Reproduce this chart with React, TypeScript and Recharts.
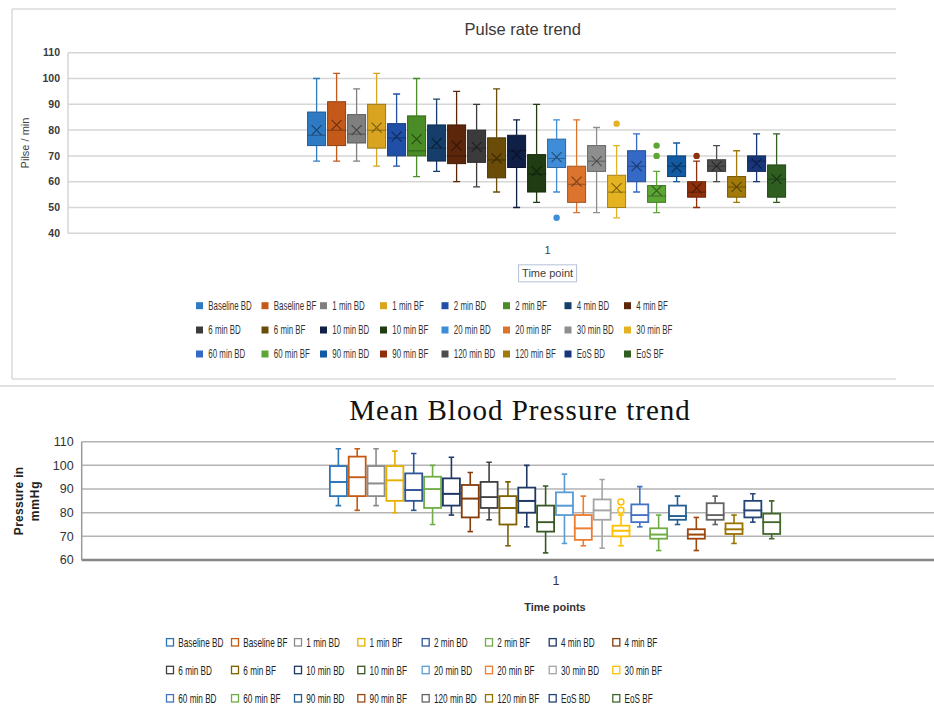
import React from 'react';
import { ComposedChart, Bar, Scatter, XAxis, YAxis, CartesianGrid, Label } from 'recharts';

// ---------- shared categories ----------
const seriesNames = [
  'Baseline BD', 'Baseline BF', '1 min BD', '1 min BF', '2 min BD', '2 min BF', '4 min BD', '4 min BF',
  '6 min BD', '6 min BF', '10 min BD', '10 min BF', '20 min BD', '20 min BF', '30 min BD', '30 min BF',
  '60 min BD', '60 min BF', '90 min BD', '90 min BF', '120 min BD', '120 min BF', 'EoS BD', 'EoS BF',
];
const categoryLabels = ['1'];

// ---------- Pulse rate (beats / min) ----------
const pulseMin = [68, 68, 68, 66, 66, 62, 64, 60, 58, 56, 50, 52, 56, 48, 48, 46, 56, 48, 60, 50, 60, 52, 60, 52];
const pulseQ1 = [74, 74, 75, 73, 70, 70, 68, 67, 67.5, 61.5, 65.5, 56, 65.5, 52, 64, 50, 60, 52, 62, 54, 64, 54, 64, 54];
const pulseMedian = [78, 80, 78.5, 80, 77, 72, 73, 70, 73, 68.5, 72, 63, 69, 59, 68, 56, 66, 54.5, 66, 56, 66, 58, 68, 61];
const pulseQ3 = [87, 91, 86, 90, 82.5, 85.5, 82, 82, 80, 77, 78, 70.5, 76.5, 66, 74, 62.5, 72, 58.5, 70, 60, 68.5, 62, 70, 66.5];
const pulseMax = [100, 102, 96, 102, 94, 100, 92, 95, 90, 96, 84, 90, 84, 84, 81, 74, 78.5, 64, 75, 68, 74, 72, 78.5, 78.5];
const pulseMean = [80, 82, 80, 81, 77.5, 76.5, 75, 74, 73.5, 69, 70.5, 64, 69.5, 60, 68, 57.5, 66, 56.5, 65.5, 57.5, 66, 58, 67, 61];
const pulseOutlierSeries = [12, 15, 17, 17, 19];
const pulseOutlierValues = [46, 82.5, 74, 70, 70];
const pulseTicks = [40, 50, 60, 70, 80, 90, 100, 110];

// ---------- Mean blood pressure (mmHg) ----------
const bpMin = [83, 81, 83, 80, 81, 75, 79, 72, 77, 66, 74, 63, 67, 66, 65, 66, 74, 64, 75, 64, 75, 67, 76, 69];
const bpQ1 = [87, 87, 87, 85, 85, 82, 83, 78, 82, 75, 80, 72, 79, 68.5, 77, 70, 76, 69, 77, 69, 77, 71, 78, 71];
const bpMedian = [93, 95, 92.4, 93.7, 89.6, 90, 88, 86, 86.6, 82, 85, 76, 83, 73.4, 81, 72.4, 79, 70.8, 78.6, 70.8, 79, 73, 81, 76];
const bpQ3 = [99.7, 103.7, 99.7, 99.7, 96.6, 95.2, 94.5, 91.7, 93, 87, 90.6, 83, 88.6, 79, 85.6, 74.5, 83.5, 73.4, 83, 73, 84, 75.5, 85, 79.6];
const bpMax = [107, 107, 107, 106, 105, 100, 103.4, 97, 101.3, 93, 100, 91.3, 96.3, 87, 94, 79, 91, 79, 87, 78, 87, 79, 88, 85];
const bpOutlierSeries = [15, 15];
const bpOutlierValues = [84.5, 81];
const bpTicks = [60, 70, 80, 90, 100, 110];

// ---------- colours ----------
const pulseColors = [
  '#2e7bc4', '#c4591a', '#7f7f7f', '#d9a520', '#1f4fa6', '#4a8c25', '#153f6a', '#5c260a',
  '#3b3b3b', '#6a4b08', '#101f46', '#203c12', '#3f8dd8', '#dc742e', '#8e8e8e', '#e3b322',
  '#3569c6', '#5ba634', '#125aa2', '#8f300c', '#4d4d4d', '#a27a0a', '#18377b', '#2f5f20',
];
const bpColors = [
  '#2e75b6', '#c55a11', '#8c8c8c', '#e6b000', '#2f5597', '#70ad47', '#1f3864', '#843c0c',
  '#404040', '#7f6000', '#203864', '#385723', '#5b9bd5', '#ed7d31', '#a5a5a5', '#ffc000',
  '#4472c4', '#70ad47', '#255e91', '#9e480e', '#636363', '#997300', '#264478', '#43682b',
];

function shade(hex: string, f: number) {
  const n = parseInt(hex.slice(1), 16);
  const r = Math.round(((n >> 16) & 255) * f);
  const g = Math.round(((n >> 8) & 255) * f);
  const b = Math.round((n & 255) * f);
  return `rgb(${r},${g},${b})`;
}

// ---------- table builders ----------
function buildRows(min: number[], q1: number[], med: number[], q3: number[], max: number[], mean?: number[]) {
  return seriesNames.map((name, i) => ({
    pos: i,
    name,
    base: min[i],
    lowW: q1[i] - min[i],
    lowBox: med[i] - q1[i],
    highBox: q3[i] - med[i],
    highW: max[i] - q3[i],
    mean: mean ? mean[i] : undefined,
  }));
}
const pulseRows = buildRows(pulseMin, pulseQ1, pulseMedian, pulseQ3, pulseMax, pulseMean);
const bpRows = buildRows(bpMin, bpQ1, bpMedian, bpQ3, bpMax);
const pulseOutlierRows = pulseOutlierSeries.map((s, i) => ({ pos: s, value: pulseOutlierValues[i] }));
const bpOutlierRows = bpOutlierSeries.map((s, i) => ({ pos: s, value: bpOutlierValues[i] }));
const groupCenter = (seriesNames.length - 1) / 2;

// ---------- shapes ----------
const idxOf = (p: any) => (p && p.payload && typeof p.payload.pos === 'number' ? p.payload.pos : p.index ?? 0);
const Empty = () => <g />;

const makeWhisker = (colors: string[], capW: number, sw: number, which: 'low' | 'high') => (p: any) => {
  const { x, y, width, height } = p;
  if (x == null || y == null) return <g />;
  const c = colors[idxOf(p)];
  const cx = x + width / 2;
  const capY = which === 'low' ? y + height : y;
  return (
    <g>
      <line x1={cx} x2={cx} y1={y} y2={y + height} stroke={c} strokeWidth={sw} />
      <line x1={cx - capW / 2} x2={cx + capW / 2} y1={capY} y2={capY} stroke={c} strokeWidth={sw} />
    </g>
  );
};

const makeBox = (fill: (i: number) => string, stroke: (i: number) => string, sw: number) => (p: any) => {
  const { x, y, width, height } = p;
  if (x == null || y == null) return <g />;
  const i = idxOf(p);
  return <rect x={x} y={y} width={width} height={Math.max(0, height)} fill={fill(i)} stroke={stroke(i)} strokeWidth={sw} />;
};

const MeanMark = (p: any) => {
  const { cx, cy } = p;
  if (cx == null || cy == null) return <g />;
  const c = shade(pulseColors[idxOf(p)], 0.55);
  const s = 5;
  return (
    <g stroke={c} strokeWidth={1.1}>
      <line x1={cx - s} y1={cy - s} x2={cx + s} y2={cy + s} />
      <line x1={cx - s} y1={cy + s} x2={cx + s} y2={cy - s} />
    </g>
  );
};

const PulseOutlier = (p: any) => {
  const { cx, cy } = p;
  if (cx == null || cy == null) return <g />;
  return <circle cx={cx} cy={cy} r={3.2} fill={pulseColors[p.payload.pos]} />;
};
const BpOutlier = (p: any) => {
  const { cx, cy } = p;
  if (cx == null || cy == null) return <g />;
  return <circle cx={cx} cy={cy} r={3} fill="#fff" stroke={bpColors[p.payload.pos]} strokeWidth={1.5} />;
};

// ---------- axis ticks / labels ----------
const TopXTick = (p: any) => {
  const { x, y } = p;
  return (
    <g>
      <text x={x + 1} y={y + 12.5} textAnchor="middle" fontSize={11} fill="#404040" fontFamily="Liberation Sans, Arial, sans-serif">
        {categoryLabels[0]}
      </text>
      <rect x={x - 28} y={y + 23.5} width={58} height={17} fill="none" stroke="#b4c2d6" strokeWidth={1} />
      <text x={x + 1} y={y + 35.5} textAnchor="middle" fontSize={11} fill="#404040" fontFamily="Liberation Sans, Arial, sans-serif">
        Time point
      </text>
    </g>
  );
};

const BottomXTick = (p: any) => {
  const { x, y } = p;
  return (
    <g>
      <text x={x + 1} y={y + 16.5} textAnchor="middle" fontSize={12.5} fill="#333" fontFamily="Liberation Sans, Arial, sans-serif">
        {categoryLabels[0]}
      </text>
      <text x={x} y={y + 43} textAnchor="middle" fontSize={11} fontWeight="bold" fill="#333" fontFamily="Liberation Sans, Arial, sans-serif">
        Time points
      </text>
    </g>
  );
};

const TopYLabel = (p: any) => {
  const vb = p.viewBox || {};
  const cy = vb.y + vb.height / 2;
  const cx = 25;
  return (
    <text x={cx} y={cy} transform={`rotate(-90 ${cx} ${cy})`} textAnchor="middle" dominantBaseline="central" fontSize={11} fill="#404040" fontFamily="Liberation Sans, Arial, sans-serif">
      Pilse / min
    </text>
  );
};

const BottomYLabel = (p: any) => {
  const vb = p.viewBox || {};
  const cy = vb.y + vb.height / 2;
  return (
    <g fontSize={12} fontWeight="bold" fill="#222" fontFamily="Liberation Sans, Arial, sans-serif">
      <text x={19.5} y={cy} transform={`rotate(-90 19.5 ${cy})`} textAnchor="middle" dominantBaseline="central" letterSpacing={0.3}>
        Pressure in
      </text>
      <text x={35} y={cy} transform={`rotate(-90 35 ${cy})`} textAnchor="middle" dominantBaseline="central" letterSpacing={0.8}>
        mmHg
      </text>
    </g>
  );
};

// ---------- legends ----------
const topLegendCols = [196, 261.5, 320, 380, 441.5, 503, 564.5, 624];
const topLegendRows = [305.7, 330, 354];
const botLegendCols = [166, 231, 294, 357.3, 421.7, 485, 548.7, 612.3];
const botLegendRows = [642.3, 670, 698.3];

function Legends() {
  return (
    <svg width={934} height={711} style={{ position: 'absolute', left: 0, top: 0, pointerEvents: 'none' }}>
      {/* panel frame of the top chart */}
      <line x1={12} y1={9} x2={896} y2={9} stroke="#c9c9c9" strokeWidth={1} />
      <line x1={12} y1={9} x2={12} y2={379} stroke="#c9c9c9" strokeWidth={1} />
      <line x1={12} y1={379} x2={896} y2={379} stroke="#c9c9c9" strokeWidth={1} />
      <line x1={0} y1={386} x2={934} y2={386} stroke="#c4c4c4" strokeWidth={1} />

      {/* titles */}
      <text x={522.7} y={35} textAnchor="middle" fontSize={16.5} fill="#3a3a3a" fontFamily="Liberation Sans, Arial, sans-serif">
        Pulse rate trend
      </text>
      <text x={520} y={420} textAnchor="middle" fontSize={29} fill="#111" letterSpacing={1} fontFamily="Liberation Serif, Times New Roman, serif">
        Mean Blood Pressure trend
      </text>

      {seriesNames.map((n, i) => {
        const x = topLegendCols[i % 8];
        const y = topLegendRows[Math.floor(i / 8)];
        return (
          <g key={'t' + n}>
            <rect x={x} y={y - 3.5} width={7} height={7} fill={pulseColors[i]} />
            <text transform={`translate(${x + 12.3},${y + 4.2}) scale(0.66,1)`} fontSize={12} fill="#333" fontFamily="Liberation Sans, Arial, sans-serif">
              {n}
            </text>
          </g>
        );
      })}
      {seriesNames.map((n, i) => {
        const x = botLegendCols[i % 8];
        const y = botLegendRows[Math.floor(i / 8)];
        return (
          <g key={'b' + n}>
            <rect x={x + 0.5} y={y - 3.7} width={7} height={7.4} fill="#fff" stroke={bpColors[i]} strokeWidth={1.3} />
            <text transform={`translate(${x + 12.3},${y + 4.6}) scale(0.63,1)`} fontSize={13} fill="#222" fontFamily="Liberation Sans, Arial, sans-serif">
              {n}
            </text>
          </g>
        );
      })}
    </svg>
  );
}

// ---------- charts ----------
function PulseChart() {
  const lowW = makeWhisker(pulseColors, 7, 1.3, 'low');
  const highW = makeWhisker(pulseColors, 7, 1.3, 'high');
  const box = makeBox((i) => pulseColors[i], (i) => shade(pulseColors[i], 0.72), 1);
  return (
    <ComposedChart width={934} height={380} data={pulseRows} margin={{ top: 52.7, right: 38, bottom: 0, left: 0 }}>
      <CartesianGrid vertical={false} stroke="#d6d6d6" strokeWidth={1.5} />
      <XAxis
        type="number"
        dataKey="pos"
        domain={[-12.43, 28.97]}
        allowDataOverflow
        ticks={[groupCenter]}
        interval={0}
        tick={<TopXTick />}
        axisLine={false}
        tickLine={false}
        height={146.7}
      />
      <YAxis
        type="number"
        domain={[40, 110]}
        ticks={pulseTicks}
        allowDataOverflow
        interval={0}
        width={68}
        axisLine={{ stroke: '#d6d6d6', strokeWidth: 1.5 }}
        tickLine={false}
        tick={{ fontSize: 10.5, fill: '#3a3a3a', fontWeight: 600, fontFamily: 'Liberation Sans, Arial, sans-serif' }}
      >
        <Label content={TopYLabel} />
      </YAxis>
      <Bar dataKey="base" stackId="p" barSize={18} shape={Empty} isAnimationActive={false} />
      <Bar dataKey="lowW" stackId="p" barSize={18} shape={lowW} isAnimationActive={false} />
      <Bar dataKey="lowBox" stackId="p" barSize={18} shape={box} isAnimationActive={false} />
      <Bar dataKey="highBox" stackId="p" barSize={18} shape={box} isAnimationActive={false} />
      <Bar dataKey="highW" stackId="p" barSize={18} shape={highW} isAnimationActive={false} />
      <Scatter dataKey="mean" shape={MeanMark} isAnimationActive={false} />
      <Scatter data={pulseOutlierRows} dataKey="value" shape={PulseOutlier} isAnimationActive={false} />
    </ComposedChart>
  );
}

function BpChart() {
  const lowW = makeWhisker(bpColors, 5.5, 1.6, 'low');
  const highW = makeWhisker(bpColors, 5.5, 1.6, 'high');
  const box = makeBox(() => '#ffffff', (i) => bpColors[i], 1.8);
  return (
    <ComposedChart width={934} height={325} data={bpRows} margin={{ top: 55.7, right: 0, bottom: 0, left: 0 }}>
      <CartesianGrid vertical={false} stroke="#b3b3b3" strokeWidth={1.5} />
      <XAxis
        type="number"
        dataKey="pos"
        domain={[-13.62, 31.62]}
        allowDataOverflow
        ticks={[groupCenter]}
        interval={0}
        tick={<BottomXTick />}
        axisLine={{ stroke: '#858585', strokeWidth: 2.5 }}
        tickLine={false}
        height={151}
      />
      <YAxis
        type="number"
        domain={[60, 110]}
        ticks={bpTicks}
        allowDataOverflow
        interval={0}
        width={81.7}
        axisLine={{ stroke: '#9a9a9a', strokeWidth: 1.5 }}
        tickLine={false}
        tick={{ fontSize: 12.5, fill: '#333', fontFamily: 'Liberation Sans, Arial, sans-serif' }}
      >
        <Label content={BottomYLabel} />
      </YAxis>
      <Bar dataKey="base" stackId="b" barSize={17} shape={Empty} isAnimationActive={false} />
      <Bar dataKey="lowW" stackId="b" barSize={17} shape={lowW} isAnimationActive={false} />
      <Bar dataKey="lowBox" stackId="b" barSize={17} shape={box} isAnimationActive={false} />
      <Bar dataKey="highBox" stackId="b" barSize={17} shape={box} isAnimationActive={false} />
      <Bar dataKey="highW" stackId="b" barSize={17} shape={highW} isAnimationActive={false} />
      <Scatter data={bpOutlierRows} dataKey="value" shape={BpOutlier} isAnimationActive={false} />
    </ComposedChart>
  );
}

export default function App() {
  return (
    <div style={{ position: 'absolute', left: 0, top: 0, width: 934, height: 711, background: '#ffffff', overflow: 'hidden' }}>
      <div style={{ position: 'absolute', left: 0, top: 0 }}>
        <PulseChart />
      </div>
      <div style={{ position: 'absolute', left: 0, top: 386 }}>
        <BpChart />
      </div>
      <Legends />
    </div>
  );
}
